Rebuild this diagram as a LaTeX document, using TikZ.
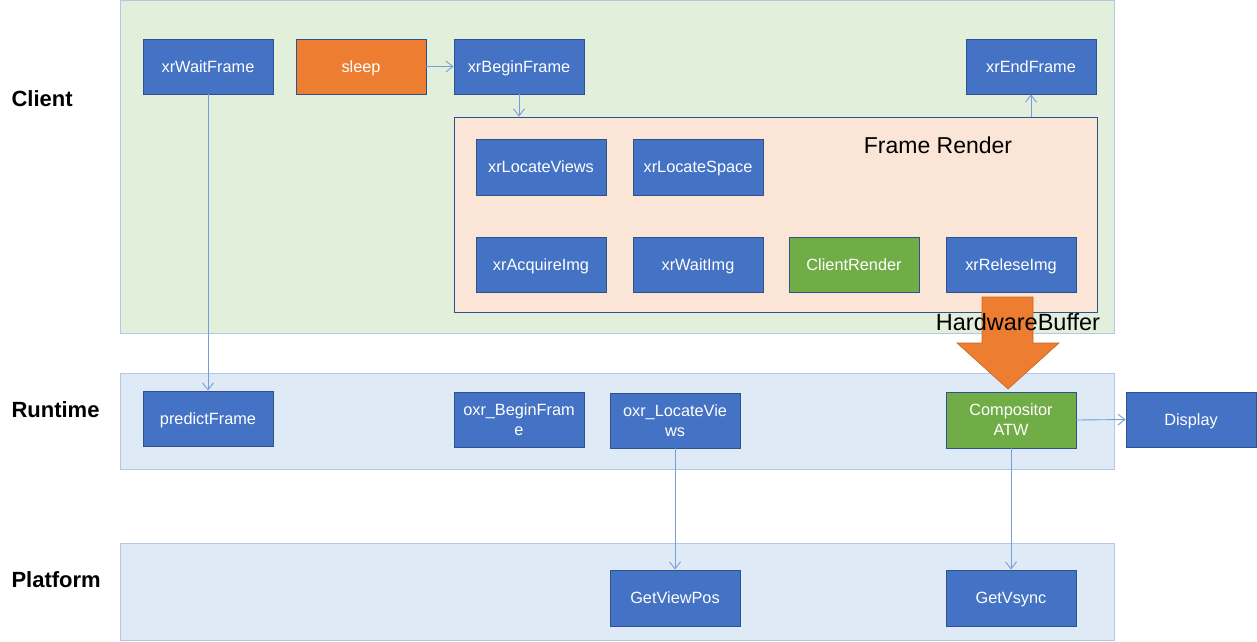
\documentclass[tikz,border=0pt]{standalone}
\usepackage{fontspec}
\setmainfont{Liberation Sans}
\usetikzlibrary{arrows.meta,calc}
\definecolor{boxblue}{HTML}{4472C4}
\definecolor{boxedge}{HTML}{2F528F}
\definecolor{boxorange}{HTML}{ED7D31}
\definecolor{boxgreen}{HTML}{70AD47}
\definecolor{clientbg}{HTML}{E2EFDA}
\definecolor{bandbg}{HTML}{DEEBF7}
\definecolor{bandedge}{HTML}{B4C7E7}
\definecolor{renderbg}{HTML}{FBE5D6}
\definecolor{connc}{HTML}{7A9BD9}
\definecolor{arrowedge}{HTML}{C8661F}
\begin{document}
\begin{tikzpicture}[x=1pt,y=-1pt,
  band/.style={draw=bandedge,line width=0.8pt,inner sep=0pt,minimum width=994pt},
  fnbase/.style={draw=boxedge,line width=0.9pt,fill=boxblue,text=white,inner sep=0pt,
    minimum width=130pt,minimum height=55pt,align=center,font=\fontsize{16.3}{20}\selectfont},
  fn/.style={fnbase,text height=11pt,text depth=0pt},
  fntwo/.style={fnbase},
  fnorange/.style={fn,fill=boxorange},
  fngreen/.style={fn,fill=boxgreen},
  bandlabel/.style={anchor=west,font=\fontsize{22}{26}\selectfont\bfseries},
  conn/.style={draw=connc,line width=0.9pt,-{Straight Barb[length=7pt,width=11pt,line width=0.9pt]}}]
\useasboundingbox (0,0) rectangle (1257,641);
% bands
\node[band,fill=clientbg,minimum height=333pt] (client) at (617,166.5) {};
\node[band,fill=bandbg,minimum height=96pt] (runtime) at (617,421) {};
\node[band,fill=bandbg,minimum height=97pt] (platform) at (617,591.5) {};
\node[bandlabel] (lclient) at (8,99) {Client};
\node[bandlabel] (lruntime) at (8,410) {Runtime};
\node[bandlabel] (lplatform) at (8,580) {Platform};
% frame render group
\node[draw=boxedge,line width=0.9pt,fill=renderbg,inner sep=0pt,minimum width=643pt,minimum height=195pt] (fr) at (775.5,214.5) {};
\node[font=\fontsize{23}{27}\selectfont] (frt) at (938,145) {Frame Render};
% client boxes
\node[fn] (waitf) at (208,66.5) {xrWaitFrame};
\node[fnorange] (sleep) at (361,66.5) {sleep};
\node[fn] (beginf) at (519,66.5) {xrBeginFrame};
\node[fn] (endf) at (1031,66.5) {xrEndFrame};
\node[fn,minimum height=56pt] (locv) at (541,167) {xrLocateViews};
\node[fn,minimum height=56pt] (locs) at (698,167) {xrLocateSpace};
\node[fn] (acq) at (541,264.5) {xrAcquireImg};
\node[fn] (wimg) at (698,264.5) {xrWaitImg};
\node[fngreen] (crender) at (854,264.5) {ClientRender};
\node[fn] (rel) at (1011,264.5) {xrReleseImg};
% runtime boxes
\node[fn] (pred) at (208,418.5) {predictFrame};
\node[fntwo] (obegin) at (519,419.5) {oxr\_BeginFram\\e};
\node[fntwo] (olocv) at (675,420.5) {oxr\_LocateVie\\ws};
\node[fntwo,fill=boxgreen,minimum height=56pt] (comp) at (1011,420) {Compositor\\ATW};
\node[fn] (disp) at (1191,419.5) {Display};
% platform boxes
\node[fn,minimum height=56pt] (gvp) at (675,598) {GetViewPos};
\node[fn,minimum height=56pt] (gvs) at (1011,598) {GetVsync};
% big arrow
\draw[fill=boxorange,draw=arrowedge,line width=0.6pt]
  (982,297) -- (1033,297) -- (1033,343) -- (1059,343) -- (1008,389) -- (957,343) -- (982,343) -- cycle;
\node[font=\fontsize{23.5}{27}\selectfont] (hwb) at (1018,322) {HardwareBuffer};
% connectors
\draw[conn] (waitf.south) -- (pred.north);
\draw[conn] (sleep.east) -- (beginf.west);
\draw[conn] (beginf.south) -- (beginf.south |- fr.north);
\draw[conn] (fr.north -| endf.south) -- (endf.south);
\draw[conn] (olocv.south) -- (gvp.north);
\draw[conn] (comp.south) -- (gvs.north);
\draw[conn] (comp.east) -- (disp.west);
\end{tikzpicture}
\end{document}
